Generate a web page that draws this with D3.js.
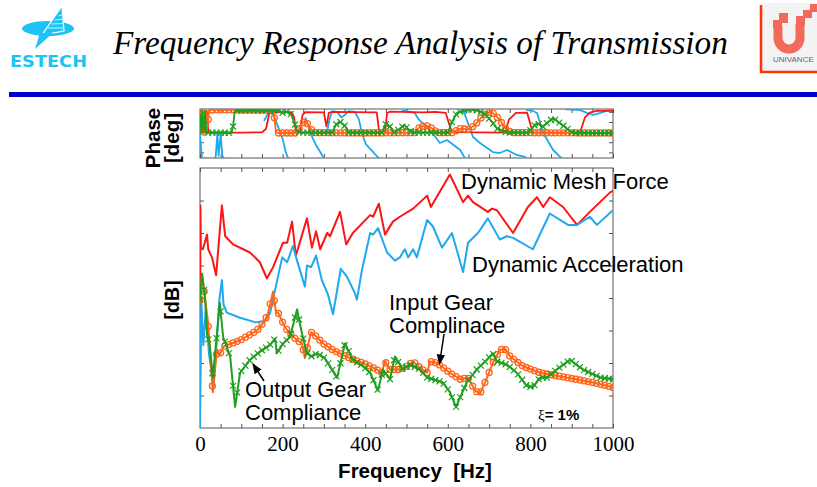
<!DOCTYPE html>
<html><head><meta charset="utf-8">
<script src="https://cdn.jsdelivr.net/npm/d3@7"></script>
<style>body{margin:0;background:#fff}svg{display:block}</style>
</head><body>
<svg id="c" width="817" height="487"></svg>
<script>
// ---------------- DATA ----------------
const titleText = "Frequency Response Analysis of Transmission";
const freqTickValues = [0, 200, 400, 600, 800, 1000];
const dbTickValues = [20, 40, 60, 80, 100, 120, 140];
const phaseTickValues = [90, 0, -90, -180, -270];

// magnitude [dB] vs frequency [Hz]
const meshForce = [[0,2],[1,137],[2,111],[7,110],[17,119],[20,110],[29,105],[39,94],[53,137],[61,118],[80,113],[121,108],[145,102],[162,92],[177,99],[201,114],[211,114],[223,127],[232,106],[259,129],[271,111],[281,121],[291,110],[308,120],[315,118],[339,133],[354,113],[370,120],[412,131],[419,130],[433,138],[448,119],[467,127],[484,130],[516,135],[550,143],[559,136],[605,156],[637,139],[649,143],[661,139],[697,133],[707,135],[719,134],[758,120],[794,136],[816,142],[831,136],[847,142],[879,136],[913,125],[944,133],[993,145],[1000,146]];
const dynAccel = [[0,0],[3,79],[8,51],[14,73],[22,45],[33,26],[40,51],[47,79],[53,91],[57,76],[65,71],[95,68],[135,65],[158,66],[170,71],[187,91],[199,105],[211,102],[225,112],[235,103],[254,87],[259,100],[269,99],[281,106],[295,91],[310,82],[322,70],[341,98],[356,93],[375,83],[380,79],[392,97],[412,120],[419,119],[431,123],[453,108],[472,103],[484,105],[496,110],[504,105],[516,110],[525,105],[550,128],[564,124],[586,111],[610,120],[637,96],[649,114],[673,120],[697,129],[726,116],[743,118],[758,117],[806,110],[847,132],[891,125],[913,125],[944,130],[961,125],[1000,134]];
const inputGear = [[0,79],[5,94],[19,66],[24,49],[31,22],[41,48],[48,45],[56,50],[97,54],[138,60],[157,66],[165,71],[177,84],[184,71],[189,71],[206,62],[218,58],[235,54],[247,52],[254,43],[269,59],[283,56],[298,52],[322,48],[363,43],[404,39],[428,36],[440,34],[448,41],[460,36],[484,36],[501,38],[516,41],[533,37],[550,34],[557,41],[574,40],[605,34],[630,30],[649,31],[666,23],[678,21],[695,31],[709,40],[726,48],[738,49],[751,44],[782,38],[823,34],[889,31],[952,28],[1000,25]];
const outputGear = [[0,79],[5,95],[12,81],[17,58],[24,50],[31,31],[41,58],[48,77],[56,56],[73,44],[85,13],[97,34],[121,42],[145,47],[169,51],[182,55],[186,46],[201,52],[218,56],[235,73],[247,58],[259,46],[271,44],[283,46],[302,43],[332,31],[351,52],[370,42],[395,38],[412,34],[431,23],[443,36],[460,30],[472,44],[491,36],[508,39],[533,36],[550,31],[564,30],[588,28],[605,22],[620,13],[630,19],[646,28],[670,36],[695,42],[709,46],[719,41],[743,39],[767,34],[791,26],[806,25],[823,31],[840,31],[864,36],[896,42],[927,36],[969,31],[1000,30]];

// phase [deg] vs frequency [Hz]  (null = wrap break)
const meshForcePhase = [[0,95],[4,95],[6,-95],[12,-95],[14,90],[18,90],[20,-95],[100,-95],[150,-92],[160,-60],[168,80],[180,88],[222,88],[228,40],[232,-90],[242,-90],[248,60],[255,88],[300,85],[306,-40],[312,80],[320,90],[428,85],[434,-90],[448,-95],[453,80],[460,92],[540,85],[570,90],[595,80],[600,20],[610,-90],[738,-95],[748,20],[765,80],[792,82],[800,-20],[806,-95],[920,-95],[932,40],[945,85],[960,98],[1000,98]];
const dynAccelPhase = [[0,-98],[3,-250],[5,-320],[30,-330],[38,-311],[42,-100],[45,-300],[50,-110],[54,-300],[60,-330],[150,-340],[151,null],
  [155,10],[165,80],[172,85],[180,40],[190,-50],[200,-150],[207,-260],[212,-311],[220,-340],[221,null],
  [255,40],[260,-10],[270,-120],[280,-200],[290,-260],[298,-311],[305,-340],[306,null],
  [307,-100],[314,30],[320,95],[332,90],[342,40],[350,60],[360,95],[375,90],[385,20],[392,-100],[402,-200],[420,-270],[430,-311],[440,-340],[441,null],
  [488,100],[500,95],[520,80],[530,20],[557,-71],[581,-187],[598,-160],[630,-249],[637,-293],[645,-340],[646,null],
  [632,110],[640,80],[646,17],[661,-134],[678,-187],[709,-267],[726,-276],[743,-249],[767,-293],[787,-311],[795,-340],[796,null],
  [790,105],[805,100],[816,80],[831,-98],[855,-249],[872,-311],[880,-340],[881,null],
  [885,112],[900,110],[920,105],[937,80],[952,62],[970,80],[985,100],[1000,105]];
const inputGearPhase = [[0,110],[4,110],[6,-90],[10,-90],[12,100],[16,100],[18,-60],[22,105],[40,108],[170,108],[178,100],[184,-90],[190,-98],[235,-98],[245,-20],[255,10],[265,-40],[275,-95],[400,-98],[520,-95],[533,-40],[550,-35],[564,-60],[575,-95],[610,-95],[630,-60],[650,-65],[665,-30],[680,35],[695,80],[705,92],[715,60],[726,17],[743,-75],[760,-95],[1000,-98]];
const outputGearPhase = [[0,60],[3,-95],[6,100],[9,-90],[12,100],[15,-95],[55,-95],[76,-98],[80,-40],[84,90],[90,100],[190,100],[200,80],[210,90],[220,70],[228,0],[235,-80],[242,-95],[320,-95],[330,-20],[340,0],[352,-40],[360,-95],[440,-95],[450,-20],[460,-40],[470,-95],[484,-60],[495,-27],[505,-70],[515,-95],[600,-95],[610,0],[622,80],[640,100],[654,115],[675,100],[690,70],[705,10],[720,-60],[743,-95],[795,-95],[815,-9],[830,-40],[855,35],[875,-20],[900,-90],[910,-98],[1000,-98]];

// ---------------- CHART ----------------
const svg = d3.select("#c");
const C = {red:"#ff1414", blue:"#1ea8f0", orange:"#ff661a", green:"#1f9e1f", frame:"#555"};
const x = d3.scaleLinear().domain([0,1000]).range([200,613]);
const y = d3.scaleLinear().domain([0,160]).range([428,168]);
const yp = d3.scaleLinear().domain([-320,115]).range([158,109]);

// header: ESTECH logo
const lg = svg.append("g");
lg.append("ellipse").attr("cx",48).attr("cy",28.5).attr("rx",26).attr("ry",7.5).attr("fill","#1ec3f4");
lg.append("path").attr("d","M62,6 L64,31 L42,35 Z").attr("fill","#1ec3f4").attr("stroke","#fff").attr("stroke-width",1.2);
lg.append("path").attr("d","M53,33 L35,49 L40,33 Z").attr("fill","#1ec3f4");
for (let i=0;i<5;i++) lg.append("line").attr("x1",62-i*3.5).attr("y1",12+i*4).attr("x2",63).attr("y2",10+i*4.5).attr("stroke","#fff").attr("stroke-width",0.8);
lg.append("text").attr("x",10).attr("y",67).attr("font-family","DejaVu Sans").attr("font-weight","bold")
  .attr("font-size",15).attr("fill","#1ec3f4").attr("textLength",77).attr("lengthAdjust","spacingAndGlyphs").text("ESTECH");

// header: title
const tt = svg.append("text").attr("x",113).attr("y",54).attr("font-family","Liberation Serif")
  .attr("font-style","italic").attr("font-size",32).attr("fill","#000").text(titleText);
const tw = tt.node().getComputedTextLength();
tt.attr("font-size", 32*615/tw);

// header: UNIVANCE logo
const ul = svg.append("g");
ul.append("rect").attr("x",762).attr("y",3).attr("width",60).attr("height",68).attr("fill","#f3f3f3");
ul.append("path").attr("d","M761,5 L761,72 L820,72").attr("fill","none").attr("stroke","#ff3300").attr("stroke-width",2.5);
const uc = "#f26a5c";
ul.append("path").attr("d","M778,26 L778,38 A11,11 0 0 0 800,38 L800,24").attr("fill","none").attr("stroke",uc).attr("stroke-width",9);
ul.append("rect").attr("x",779).attr("y",13).attr("width",9).attr("height",10).attr("fill",uc);
ul.append("rect").attr("x",773).attr("y",20).attr("width",9).attr("height",8).attr("fill",uc);
ul.append("rect").attr("x",796).attr("y",16).attr("width",9).attr("height",9).attr("fill",uc);
ul.append("rect").attr("x",803).attr("y",10).attr("width",9).attr("height",8).attr("fill",uc);
ul.append("rect").attr("x",810).attr("y",4).attr("width",9).attr("height",8).attr("fill",uc);
ul.append("text").attr("x",773).attr("y",62).attr("font-family","Liberation Sans").attr("font-size",8).attr("fill","#666").text("UNIVANCE");

// blue bar
svg.append("rect").attr("x",9).attr("y",92).attr("width",808).attr("height",5).attr("fill","#0000cc");

// clips
const defs = svg.append("defs");
defs.append("clipPath").attr("id","clipM").append("rect").attr("x",200).attr("y",168).attr("width",413).attr("height",260);
defs.append("clipPath").attr("id","clipP").append("rect").attr("x",200).attr("y",109).attr("width",413).attr("height",49);

function axes(ys, yTicks, top, bottom, withLabels){
  const xt = d3.range(0,1001,50);
  const gB = svg.append("g").attr("transform",`translate(0,${bottom})`)
    .call(d3.axisBottom(x).tickValues(xt).tickSize(-4).tickPadding(8)
      .tickFormat(d => withLabels && freqTickValues.includes(d) ? d : ""));
  const gT = svg.append("g").attr("transform",`translate(0,${top})`)
    .call(d3.axisTop(x).tickValues(xt).tickSize(-4).tickFormat(""));
  const gL = svg.append("g").attr("transform","translate(200,0)")
    .call(d3.axisLeft(ys).tickValues(yTicks).tickSize(-4).tickFormat(""));
  const gR = svg.append("g").attr("transform","translate(613,0)")
    .call(d3.axisRight(ys).tickValues(yTicks).tickSize(-4).tickFormat(""));
  [gB,gT,gL,gR].forEach(g => {
    g.select(".domain").remove();
    g.selectAll(".tick line").attr("stroke",C.frame);
  });
  gB.selectAll("text").attr("font-family","Liberation Serif").attr("font-size",21).attr("fill","#000");
  svg.append("rect").attr("x",200).attr("y",top).attr("width",413).attr("height",bottom-top)
    .attr("fill","none").attr("stroke",C.frame).attr("stroke-width",1);
}
axes(yp, phaseTickValues, 109, 158, false);
axes(y, dbTickValues, 168, 428, true);

function drawLine(g, data, ys, color, w){
  const line = d3.line().defined(d => d[1] !== null).x(d => x(d[0])).y(d => ys(d[1]));
  g.append("path").datum(data).attr("d",line).attr("fill","none").attr("stroke",color)
    .attr("stroke-width",w).attr("stroke-linejoin","round");
}
function markerPts(data){
  const s = d3.scaleLinear().domain(data.map(d=>d[0])).range(data.map(d=>d[1]));
  return d3.range(0,1001,10).map(f => [f, s(f)]);
}
function circles(g, data, ys, color){
  g.selectAll(null).data(markerPts(data)).join("circle")
    .attr("cx",d=>x(d[0])).attr("cy",d=>ys(d[1])).attr("r",3)
    .attr("fill","none").attr("stroke",color).attr("stroke-width",1.3);
}
function crosses(g, data, ys, color){
  const s = 3;
  g.selectAll(null).data(markerPts(data)).join("path")
    .attr("d",d=>{const cx=x(d[0]), cy=ys(d[1]); return `M${cx-s},${cy-s}L${cx+s},${cy+s}M${cx-s},${cy+s}L${cx+s},${cy-s}`;})
    .attr("fill","none").attr("stroke",color).attr("stroke-width",1.2);
}

// phase plot
const gp = svg.append("g").attr("clip-path","url(#clipP)");
drawLine(gp, dynAccelPhase, yp, C.blue, 1.8);
drawLine(gp, meshForcePhase, yp, C.red, 1.8);
drawLine(gp, inputGearPhase, yp, C.orange, 1.8);
circles(gp, inputGearPhase, yp, C.orange);
drawLine(gp, outputGearPhase, yp, C.green, 1.8);
crosses(gp, outputGearPhase, yp, C.green);

// magnitude plot
const gm = svg.append("g").attr("clip-path","url(#clipM)");
drawLine(gm, meshForce, y, C.red, 2);
drawLine(gm, dynAccel, y, C.blue, 2);
drawLine(gm, inputGear, y, C.orange, 2);
circles(gm, inputGear, y, C.orange);
drawLine(gm, outputGear, y, C.green, 2);
crosses(gm, outputGear, y, C.green);

// axis titles
const bold = {"font-family":"Liberation Sans","font-weight":"bold","fill":"#000"};
function txt(s, xx, yy, size, attrs, rot){
  const t = svg.append("text").attr("font-size",size).text(s);
  Object.entries(attrs).forEach(([k,v])=>t.attr(k,v));
  if (rot) t.attr("transform",`translate(${xx},${yy}) rotate(-90)`).attr("text-anchor","middle");
  else t.attr("x",xx).attr("y",yy);
  return t;
}
txt("Phase", 160, 138, 20.5, bold, true);
txt("[deg]", 179, 138, 20.5, bold, true);
txt("[dB]", 179, 300, 19.5, bold, true);
txt("Frequency  [Hz]", 415, 478, 20.5, bold, false).attr("text-anchor","middle").style("white-space","pre");

// annotations
const reg = {"font-family":"Liberation Sans","fill":"#000"};
txt("Dynamic Mesh Force", 461, 189, 22, reg);
txt("Dynamic Acceleration", 472, 272, 22, reg);
txt("Input Gear", 389, 310, 22, reg);
txt("Complinace", 389, 333, 22, reg);
txt("Output Gear", 245, 397, 22, reg);
txt("Compliance", 245, 420, 22, reg);
const xi = svg.append("text").attr("x",538).attr("y",420).attr("font-size",15).attr("fill","#000");
xi.append("tspan").attr("font-family","Liberation Serif").text("ξ");
xi.append("tspan").attr("font-family","Liberation Sans").attr("font-weight","bold").text("= 1%");

// arrows
defs.append("marker").attr("id","ah").attr("viewBox","0 0 10 10").attr("refX",9).attr("refY",5)
  .attr("markerWidth",7).attr("markerHeight",7).attr("orient","auto")
  .append("path").attr("d","M0,1 L10,5 L0,9 Z").attr("fill","#000");
svg.append("line").attr("x1",444).attr("y1",334).attr("x2",439.5).attr("y2",364)
  .attr("stroke","#000").attr("stroke-width",1.5).attr("marker-end","url(#ah)");
svg.append("line").attr("x1",264).attr("y1",381).attr("x2",253).attr("y2",364)
  .attr("stroke","#000").attr("stroke-width",1.5).attr("marker-end","url(#ah)");
</script>
</body></html>
